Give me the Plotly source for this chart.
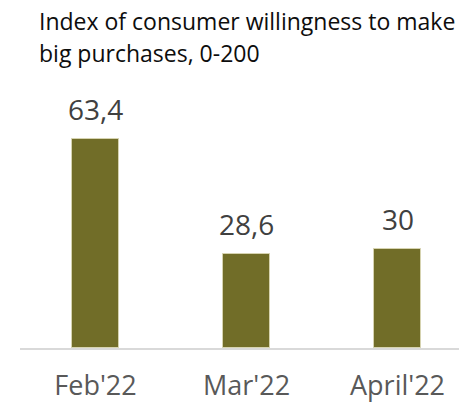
import plotly.graph_objects as go

# Index of consumer willingness to make big purchases (scale 0-200)
categories = ["Feb'22", "Mar'22", "April'22"]
values = [63.4, 28.6, 30]
title_lines = ["Index of consumer willingness to make", "big purchases, 0-200"]

BAR_COLOR = "#716D28"
FONT = "Open Sans"

W, H = 459, 405
ML, MR, MT, MB = 20, 0, 100, 57
PLOT_W = W - ML - MR
PLOT_H = H - MT - MB


def fmt(v):
    """Format a value with a decimal comma, dropping a trailing ',0'."""
    if float(v).is_integer():
        return str(int(v))
    return f"{v:.1f}".replace(".", ",")


x_pos = list(range(len(categories)))

fig = go.Figure()
fig.add_trace(
    go.Bar(
        x=x_pos,
        y=values,
        width=0.31,
        marker=dict(color=BAR_COLOR, line=dict(color="#D6D3B0", width=1)),
        hoverinfo="skip",
    )
)

# value labels above each bar
for xp, v in zip(x_pos, values):
    fig.add_annotation(
        x=xp, y=v, xref="x", yref="y",
        text=fmt(v), showarrow=False,
        yanchor="middle", yshift=30,
        font=dict(family=FONT, size=28, color="#404040"),
    )

# two-line heading, placed in page pixels converted to paper units
for i, line in enumerate(title_lines):
    cy = 21 + 32.3 * i
    fig.add_annotation(
        x=(37 - ML) / PLOT_W, y=(H - MB - cy) / PLOT_H,
        xref="paper", yref="paper",
        text=line, showarrow=False,
        xanchor="left", yanchor="middle",
        font=dict(family=FONT, size=23, color="#0d0d0d"),
    )

fig.update_layout(
    width=W, height=H,
    margin=dict(l=ML, r=MR, t=MT, b=MB, pad=0),
    paper_bgcolor="white", plot_bgcolor="white",
    showlegend=False,
    bargap=0,
)
fig.update_xaxes(
    range=[-0.5, 2.407],
    tickvals=x_pos, ticktext=categories,
    showline=True, linecolor="#D9D9D9", linewidth=2,
    showgrid=False, zeroline=False, ticks="",
    ticklabelstandoff=13, automargin=False,
    tickfont=dict(family=FONT, size=27, color="#595959"),
    fixedrange=True,
)
fig.update_yaxes(
    range=[0, 75.15],
    visible=False, showgrid=False, zeroline=False,
    automargin=False, fixedrange=True,
)

fig.write_html("out.html", config={"displayModeBar": False})
